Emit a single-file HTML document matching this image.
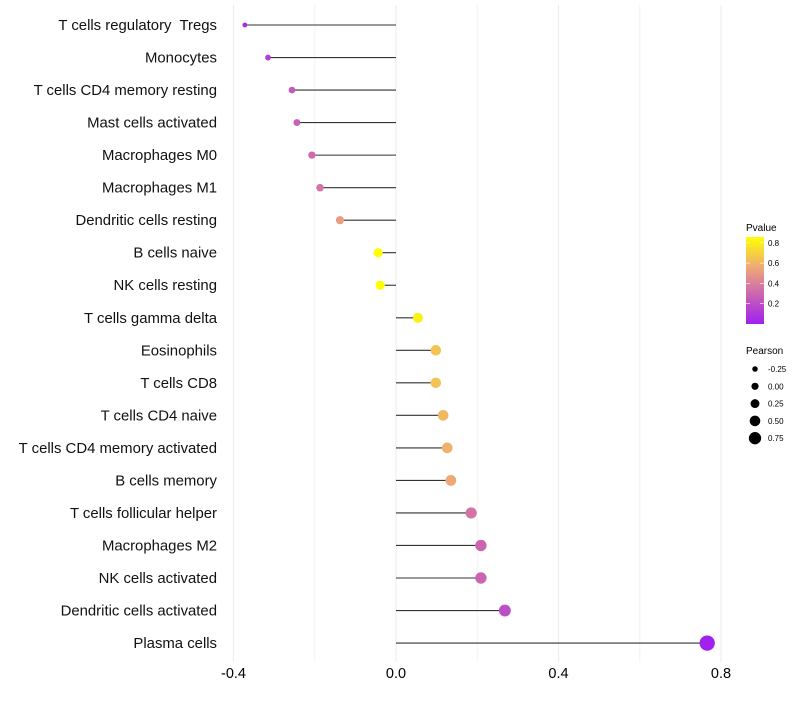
<!DOCTYPE html>
<html><head><meta charset="utf-8"><style>
body{margin:0;background:#fff;}
svg{font-family:"Liberation Sans",sans-serif;}
text{white-space:pre;}
</style></head><body>
<svg id="chart" width="800" height="700">
<defs><linearGradient id="pg" x1="0" y1="1" x2="0" y2="0">
<stop offset="0" stop-color="#A020F0"/><stop offset="0.35" stop-color="#CC66B0"/><stop offset="0.65" stop-color="#EEA878"/><stop offset="1" stop-color="#FFFF00"/>
</linearGradient></defs>
<g id="grid"></g><g id="marks"></g><g id="labels"></g><g id="legend"></g>
</svg>
<script>
const categories=["T cells regulatory  Tregs","Monocytes","T cells CD4 memory resting","Mast cells activated","Macrophages M0","Macrophages M1","Dendritic cells resting","B cells naive","NK cells resting","T cells gamma delta","Eosinophils","T cells CD8","T cells CD4 naive","T cells CD4 memory activated","B cells memory","T cells follicular helper","Macrophages M2","NK cells activated","Dendritic cells activated","Plasma cells"];
const pearson=[-0.372,-0.315,-0.256,-0.244,-0.207,-0.187,-0.138,-0.044,-0.039,0.054,0.098,0.098,0.116,0.126,0.135,0.185,0.209,0.209,0.268,0.766];
const pvalue=[0.05,0.12,0.25,0.28,0.32,0.36,0.52,0.87,0.87,0.82,0.66,0.66,0.62,0.6,0.57,0.36,0.3,0.3,0.2,0.01];
const xTicks=[-0.4,0.0,0.4,0.8];
const xTickLabels=["-0.4","0.0","0.4","0.8"];
const gridMinor=[-0.2,0.2,0.6];
const legendPvals=[0.8,0.6,0.4,0.2];
const legendPearson=[-0.25,0.00,0.25,0.50,0.75];
const legendPearsonLabels=["-0.25","0.00","0.25","0.50","0.75"];
const NS="http://www.w3.org/2000/svg";
const X=v=>396+v*406.25;
const Y=i=>25+i*32.53;
const R=v=>Math.sqrt(Math.max(2.5,23+46*v));
const stops=[[0,[160,32,240]],[0.305,[204,102,176]],[0.565,[238,168,120]],[0.87,[255,255,0]]];
function col(p){p=Math.max(0,Math.min(0.87,p));for(let k=1;k<stops.length;k++){if(p<=stops[k][0]){const[a,ca]=stops[k-1],[b,cb]=stops[k];const t=(p-a)/(b-a);return"rgb("+ca.map((c,j)=>Math.round(c+(cb[j]-c)*t)).join(",")+")";}}return"rgb(255,255,0)";}
function mk(t,a,par){const e=document.createElementNS(NS,t);for(const k in a)e.setAttribute(k,a[k]);document.getElementById(par).appendChild(e);return e;}
gridMinor.forEach(v=>{const l=mk("line",{x1:X(v),x2:X(v),y1:5,y2:662,stroke:"#f4f4f4","stroke-width":1},"grid");

});
xTicks.forEach((v,i)=>{const l=mk("line",{x1:X(v),x2:X(v),y1:5,y2:662,stroke:"#ededed","stroke-width":1.1},"grid");


const t=mk("text",{x:X(v),y:678,"text-anchor":"middle","font-size":14.5,fill:"#000"},"labels");t.textContent=xTickLabels[i];

});
categories.forEach((c,i)=>{
const l=mk("line",{x1:X(0),x2:X(pearson[i]),y1:Y(i),y2:Y(i),stroke:"#333","stroke-width":1.1},"marks");


const d=mk("circle",{cx:X(pearson[i]),cy:Y(i),r:R(pearson[i]),fill:col(pvalue[i])},"marks");


const t=mk("text",{x:217,y:Y(i)+5,"text-anchor":"end","font-size":14.9,fill:"#111"},"labels");t.textContent=c;

});
let g;
g=mk("text",{x:746,y:231,"font-size":10},"legend");g.textContent="Pvalue";


g=mk("rect",{x:746,y:237,width:18,height:87,fill:"url(#pg)"},"legend");


legendPvals.forEach(p=>{const y=324-p*101.5;
g=mk("line",{x1:746,x2:750,y1:y,y2:y,stroke:"#fff","stroke-width":0.6},"legend");


g=mk("line",{x1:760,x2:764,y1:y,y2:y,stroke:"#fff","stroke-width":0.6},"legend");


g=mk("text",{x:768,y:y+3,"font-size":8},"legend");g.textContent=p.toFixed(1);

});
g=mk("text",{x:746,y:354,"font-size":10},"legend");g.textContent="Pearson";


legendPearson.forEach((v,i)=>{const y=369+i*17.3;
g=mk("circle",{cx:755,cy:y,r:3.6+v*3.4,fill:"#000"},"legend");


g=mk("text",{x:768,y:y+3,"font-size":8},"legend");g.textContent=legendPearsonLabels[i];

});
</script>
</body></html>
